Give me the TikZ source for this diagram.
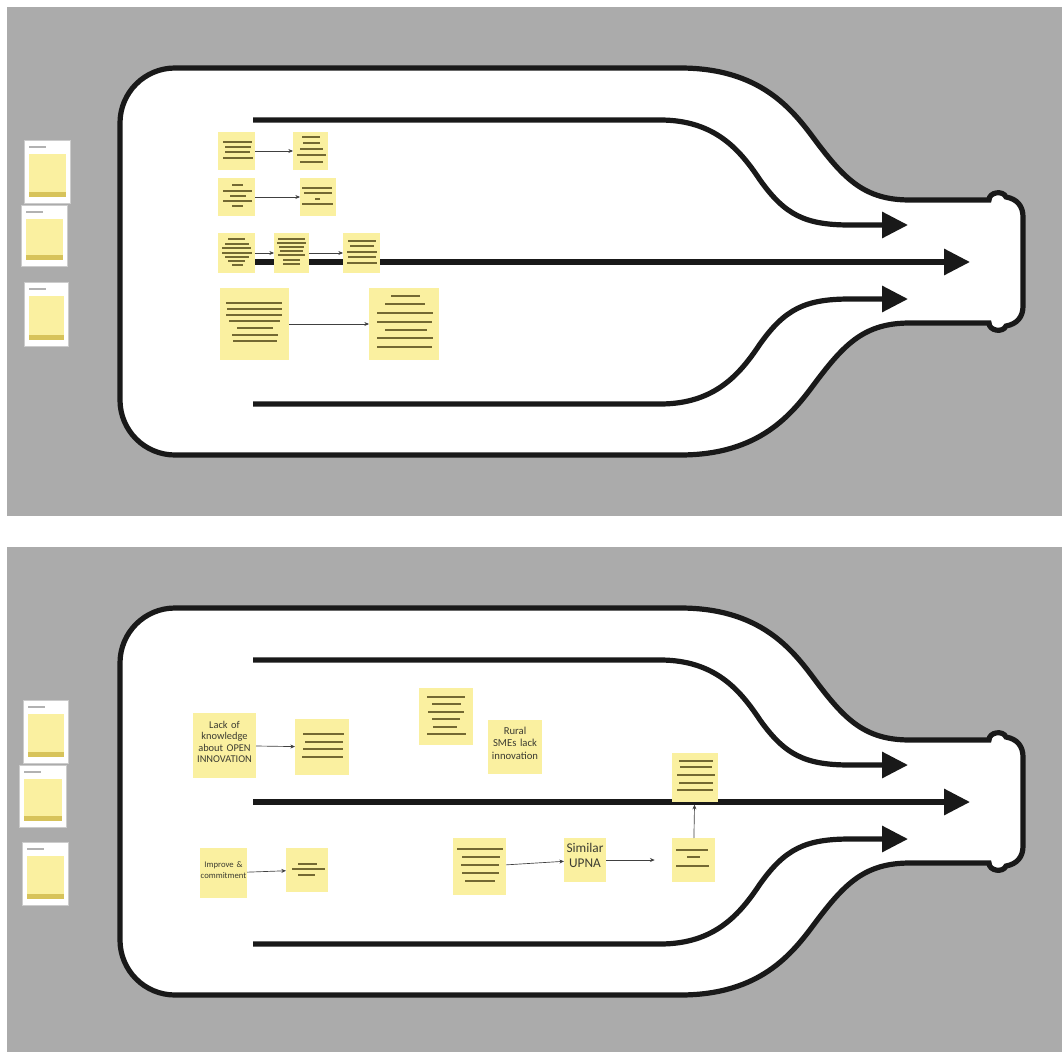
\documentclass[tikz,border=0pt]{standalone}
\usepackage{fontspec}
\setmainfont{Carlito}
\usetikzlibrary{arrows.meta,fit}
\definecolor{panelgray}{RGB}{171,171,171}
\definecolor{notey}{RGB}{250,240,160}
\definecolor{noteline}{RGB}{115,105,50}
\definecolor{notedark}{RGB}{215,195,90}
\definecolor{txt}{RGB}{60,60,50}
\tikzset{
 note/.style={fill=notey, draw=none, inner sep=0pt, outer sep=0pt},
 nl/.style={draw=noteline, line width=1.3pt},
 nlthin/.style={draw=noteline, line width=0.8pt},
 smallarrow/.style={draw=black!75, line width=0.5pt, -{Stealth[length=3.5pt,width=3pt]}},
 bigline/.style={line width=3.9pt, draw=black!90},
 bigarrow/.style={bigline, -{Triangle[length=19.5pt,width=19pt]}},
 outline/.style={line width=3.9pt, draw=black!90, fill=white},
 cardst/.style={fill=white, draw=black!20, line width=0.5pt},
 notetext/.style={font=\fontsize{7.8}{8.6}\selectfont, text=txt, align=center}
}
\newcommand{\drawbottle}{%
 \draw[outline] (175,68) -- (680,68)
   .. controls (760,68) and (792,109) .. (815,140)
   .. controls (845,180) and (865,200) .. (910,200)
   -- (989,200)
   .. controls (989,192) and (1003,190) .. (1006,197)
   .. controls (1017,199) and (1023,206) .. (1023,217)
   -- (1023,306)
   .. controls (1023,317) and (1017,324) .. (1006,326)
   .. controls (1003,333) and (989,331) .. (989,323)
   -- (910,323)
   .. controls (865,323) and (845,343) .. (815,383)
   .. controls (792,414) and (760,455) .. (680,455)
   -- (175,455)
   .. controls (144.6,455) and (120,430.4) .. (120,400)
   -- (120,123)
   .. controls (120,92.6) and (144.6,68) .. (175,68) -- cycle;
 \draw[bigarrow] (253,120) -- (660,120) .. controls (715,120) and (740,150) .. (760,180)
   .. controls (785,215) and (805,225) .. (850,225) -- (908,225);
 \draw[bigarrow] (253,262) -- (970,262);
 \draw[bigarrow] (253,404) -- (660,404) .. controls (715,404) and (740,374) .. (760,344)
   .. controls (785,309) and (805,299) .. (850,299) -- (908,299);
}
\newcommand{\stickycard}[4]{%
 \draw[cardst] (#1,#2) rectangle (#3,#4);
 \fill[black!30] (#1+5,#2+6) rectangle (#1+22,#2+7.5);
 \fill[notey] (#1+5,#2+14) rectangle (#3-4,#4-6);
 \fill[notedark] (#1+5,#4-11) rectangle (#3-4,#4-6);
}
\begin{document}
\begin{tikzpicture}[x=0.75pt,y=-0.75pt]
\useasboundingbox (0,0) rectangle (1062,1052);
\fill[white] (0,0) rectangle (1062,1052);
\fill[panelgray] (7,7) rectangle (1062,516);
\fill[panelgray] (7,547) rectangle (1062,1052);

% ---------- top panel ----------
\drawbottle
\stickycard{24}{140}{70}{203}
\stickycard{21}{205}{67}{266}
\stickycard{24}{282}{68}{346}

\node[note, fit={(218,132) (255,170)}] (a1) {};
\draw[nl] (223,142) -- (252,142) (225,147) -- (251,147) (225,152) -- (250,152) (223,158) -- (253,158);
\node[note, fit={(293,132) (328,170)}] (a2) {};
\draw[nl] (302,137) -- (320,137) (303,143) -- (320,143) (300,149) -- (323,149) (297,155) -- (326,155) (300,162) -- (323,162);
\node[note, fit={(218,178) (255,216)}] (b1) {};
\draw[nl] (232,185) -- (243,185) (223,191) -- (252,191) (230,196) -- (246,196) (223,201) -- (252,201) (232,206) -- (243,206);
\node[note, fit={(300,178) (336,216)}] (b2) {};
\draw[nl] (302,188) -- (332,188) (304,193) -- (332,193) (315,199) -- (320,199) (302,204) -- (333,204);
\node[note, fit={(218,233) (255,273)}] (c1) {};
\draw[nlthin] (228,239) -- (245,239) (225,244) -- (249,244) (222,248) -- (251,248) (222,253) -- (252,253) (225,257) -- (249,257) (228,261) -- (245,261) (232,265) -- (243,265);
\node[note, fit={(274,233) (309,273)}] (c2) {};
\draw[nlthin] (278,239) -- (305,239) (277,243) -- (306,243) (279,247) -- (304,247) (280,251) -- (303,251) (278,255) -- (305,255) (283,260) -- (300,260) (283,264) -- (300,264);
\node[note, fit={(343,233) (380,273)}] (c3) {};
\draw[nl] (348,241) -- (376,241) (350,246) -- (374,246) (347,252) -- (377,252) (348,257) -- (376,257) (347,263) -- (377,263);
\node[note, fit={(220,288) (289,360)}] (d1) {};
\draw[nl] (226,303) -- (282,303) (227,309) -- (282,309) (226,315) -- (282,315) (229,321) -- (280,321) (237,328) -- (273,328) (232,335) -- (278,335) (233,341) -- (277,341);
\node[note, fit={(369,288) (439,360)}] (d2) {};
\draw[nl] (391,296) -- (420,296) (385,304) -- (425,304) (377,313) -- (433,313) (377,322) -- (432,322) (385,330) -- (427,330) (377,338) -- (433,338) (377,347) -- (432,347);

\draw[smallarrow] (a1) -- (a2);
\draw[smallarrow] (b1) -- (b2);
\draw[smallarrow] (c1) -- (c2);
\draw[smallarrow] (c2) -- (c3);
\draw[smallarrow] (d1) -- (d2);

% ---------- bottom panel ----------
\begin{scope}[shift={(0,540)}]
\drawbottle
\end{scope}
\stickycard{23}{700}{68}{763}
\stickycard{19}{765}{66}{827}
\stickycard{22}{842}{68}{905}

\node[note, fit={(193,713) (256,778)}, notetext] (e1) {Lack of\\knowledge\\about OPEN\\INNOVATION};
\node[note, fit={(295,719) (349,775)}] (e2) {};
\draw[nl] (303,734) -- (344,734) (305,742) -- (343,742) (303,749) -- (343,749) (302,757) -- (343,757);
\node[note, fit={(419,688) (473,745)}] (f1) {};
\draw[nl] (427,697) -- (465,697) (432,704) -- (461,704) (428,712) -- (464,712) (432,719) -- (460,719) (433,727) -- (457,727) (427,734) -- (466,734);
\node[note, fit={(488,720) (542,774)}, notetext, font=\fontsize{8}{9.4}\selectfont] (r1) {Rural\\SMEs lack\\innovation};
\node[note, fit={(200,848) (247,898)}, notetext, font=\fontsize{6.5}{8}\selectfont] (g1) {Improve \&\\commitment};
\node[note, fit={(286,848) (328,892)}] (g2) {};
\draw[nl] (298,864) -- (317,864) (292,869) -- (325,869) (298,875) -- (315,875);
\node[note, fit={(453,838) (506,895)}] (h1) {};
\draw[nl] (457,849) -- (503,849) (462,857) -- (500,857) (461,865) -- (499,865) (462,873) -- (499,873) (465,881) -- (495,881);
\node[note, fit={(564,838) (606,882)}, notetext, font=\fontsize{10}{11.5}\selectfont] (s1) {Similar\\UPNA};
\node[note, fit={(672,838) (715,882)}] (i1) {};
\draw[nl] (676,850) -- (708,850) (687,857) -- (700,857) (676,866) -- (709,866);
\node[note, fit={(672,753) (718,802)}] (j1) {};
\draw[nl] (679,761) -- (713,761) (680,767) -- (712,767) (677,775) -- (715,775) (679,783) -- (713,783) (677,790) -- (713,790);

\draw[smallarrow] (e1) -- (e2);
\draw[smallarrow] (g1) -- (g2);
\draw[smallarrow] (h1) -- (s1);
\draw[smallarrow, shorten >=13pt] (s1) -- (i1);
\draw[smallarrow, shorten >=2pt] (i1) -- (j1);
\end{tikzpicture}
\end{document}
